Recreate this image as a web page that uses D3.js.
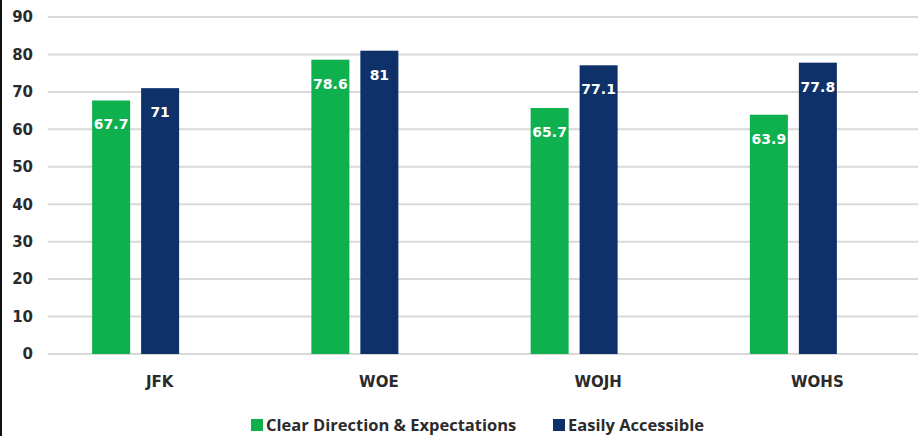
<!DOCTYPE html>
<html lang="en">
<head>
  <meta charset="UTF-8" />
  <title>Clear Direction vs Easily Accessible</title>
  <style>
    body { margin: 0; background: #fff; }
    svg { display: block; }
    .ytick text { font-family: "DejaVu Sans", Verdana, sans-serif; font-weight: bold; font-size: 15px; fill: #2b2b2b; }
    .xtick text { font-family: "DejaVu Sans", Verdana, sans-serif; font-weight: bold; font-size: 15px; fill: #2b2b2b; }
    .value { font-family: "DejaVu Sans", Verdana, sans-serif; font-weight: bold; font-size: 14px; fill: #fff; }
    .legend text { font-family: "Open Sans", sans-serif; font-weight: bold; font-size: 16.5px; fill: #2b2b2b; }
  </style>
</head>
<body>
  <svg width="918" height="436"></svg>

  <script src="https://d3js.org/d3.v7.min.js"></script>
  <script>
    // data
    const categories = ["JFK", "WOE", "WOJH", "WOHS"];
    const clearDirection = [67.7, 78.6, 65.7, 63.9];
    const easilyAccessible = [71, 81, 77.1, 77.8];
    const seriesNames = ["Clear Direction & Expectations", "Easily Accessible"];
    const yTicks = [0, 10, 20, 30, 40, 50, 60, 70, 80, 90];

    const colors = ["#0fb14e", "#0e316a"];
    const series = [clearDirection, easilyAccessible];

    const svg = d3.select("svg");

    // left border
    svg.append("rect").attr("x", 0).attr("y", 0).attr("width", 2).attr("height", 436).attr("fill", "#111");

    const y = d3.scaleLinear().domain([0, 90]).range([354, 17]);

    const x = d3.scaleBand().domain(categories).range([26, 903]);
    const inner = d3.scaleBand().domain([0, 1]).range([-43.5, 43.5]).paddingInner(0.224);

    // grid lines
    svg.append("g")
      .selectAll("line")
      .data(yTicks)
      .join("line")
      .attr("x1", 48).attr("x2", 918)
      .attr("y1", d => y(d)).attr("y2", d => y(d))
      .attr("stroke", "#d9d9d9")
      .attr("stroke-width", 2);

    // y axis labels
    const yAxis = svg.append("g")
      .attr("class", "ytick")
      .attr("transform", "translate(33,0)")
      .call(d3.axisLeft(y).tickValues(yTicks).tickSize(0).tickPadding(0));
    yAxis.select(".domain").remove();

    // x axis labels (sit a little right of the bar pairs, as in the original)
    const xLabel = x.copy().range([26 + 24, 903 + 24]);
    const xAxis = svg.append("g")
      .attr("class", "xtick")
      .attr("transform", "translate(0,376)")
      .call(d3.axisBottom(xLabel).tickSize(0).tickPadding(0));
    xAxis.select(".domain").remove();
    xAxis.selectAll("text").attr("dy", "0.71em");

    const rows = categories.map((c, i) => ({ cat: c, values: series.map(s => s[i]) }));

    const group = svg.append("g")
      .selectAll("g")
      .data(rows)
      .join("g")
      .attr("transform", d => `translate(${x(d.cat) + x.bandwidth() / 2},0)`);

    group.selectAll("rect")
      .data(d => d.values.map((v, k) => ({ k, v })))
      .join("rect")
      .attr("x", d => inner(d.k))
      .attr("width", inner.bandwidth())
      .attr("y", d => y(d.v))
      .attr("height", d => y(0) - y(d.v))
      .attr("fill", d => colors[d.k]);

    group.selectAll("text")
      .data(d => d.values.map((v, k) => ({ k, v })))
      .join("text")
      .attr("class", "value")
      .attr("x", d => inner(d.k) + inner.bandwidth() / 2)
      .attr("y", d => y(d.v) + 24)
      .attr("dy", "0.35em")
      .attr("text-anchor", "middle")
      .text(d => d.v);

    // legend
    const legendX = [251, 553];
    const legend = svg.append("g").attr("class", "legend");
    seriesNames.forEach((name, k) => {
      legend.append("rect")
        .attr("x", legendX[k]).attr("y", 419)
        .attr("width", 12).attr("height", 12)
        .attr("fill", colors[k]);
      legend.append("text")
        .attr("x", legendX[k] + 15).attr("y", 425)
        .attr("dy", "0.35em")
        .text(name);
    });
  </script>
</body>
</html>
